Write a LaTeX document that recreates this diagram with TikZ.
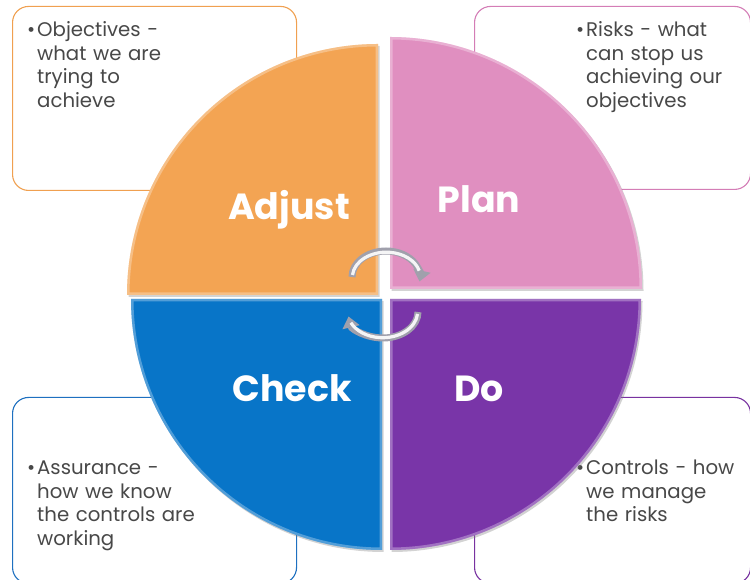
\documentclass[tikz,border=0pt]{standalone}
\usepackage{fontspec}
\setmainfont{Poppins}
\usetikzlibrary{shadows,arrows.meta}
\definecolor{cOrange}{RGB}{243,164,83}
\definecolor{cPink}{RGB}{224,143,192}
\definecolor{cBlue}{RGB}{8,117,200}
\definecolor{cPurple}{RGB}{121,53,168}
\definecolor{lOrange}{RGB}{240,160,80}
\definecolor{lPink}{RGB}{212,125,182}
\definecolor{lBlue}{RGB}{30,112,192}
\definecolor{lPurple}{RGB}{120,50,160}
\definecolor{cText}{RGB}{72,72,72}
\definecolor{cSilver}{RGB}{160,160,172}
\begin{document}
\begin{tikzpicture}[x=1bp,y=1bp,
  infobox/.style={draw, line width=1.1bp, rounded corners=16bp, fill=white, inner sep=0, anchor=south west},
  bodytext/.style={anchor=base west, inner sep=0, text width=250bp, align=left, text=cText, font=\fontsize{19.8}{23.5}\selectfont},
  quadlabel/.style={text=white, font=\fontsize{36.5}{40}\selectfont\bfseries, inner sep=0, anchor=base},
  quad/.style={drop shadow={opacity=0.35, shadow xshift=1.5bp, shadow yshift=-2bp}},
  bevel/.style={draw=white, draw opacity=0.3, line width=5bp},
  cyclearrow/.style={line width=7bp, draw=cSilver, -{Triangle[width=17bp,length=11bp]}},
  cyclehi/.style={line width=3.2bp, draw=white, draw opacity=0.9}
]
\useasboundingbox (0,0) rectangle (750,580);
% info boxes
\node[infobox, draw=lOrange, minimum width=284bp, minimum height=184bp] (boxTL) at (12,389) {};
\node[infobox, draw=lPink, minimum width=276bp, minimum height=183bp] (boxTR) at (474,390) {};
\node[infobox, draw=lBlue, minimum width=284bp, minimum height=186bp] (boxBL) at (12,-4) {};
\node[infobox, draw=lPurple, minimum width=276bp, minimum height=186bp] (boxBR) at (474,-4) {};
% texts
\node[bodytext] (tTL) at (37,543) {\llap{\textbullet\hspace{2bp}}Objectives -\\what we are\\trying to\\achieve};
\node[bodytext] (tTR) at (586,543) {\llap{\textbullet\hspace{2bp}}Risks - what\\can stop us\\achieving our\\objectives};
\node[bodytext] (tBL) at (37,105) {\llap{\textbullet\hspace{2bp}}Assurance -\\how we know\\the controls are\\working};
\node[bodytext] (tBR) at (586,105) {\llap{\textbullet\hspace{2bp}}Controls - how\\we manage\\the risks};
% quadrants
\path[fill=cOrange, quad] (378,285) -- (127,285) arc[start angle=180, end angle=90, radius=251] -- cycle;
\begin{scope}\clip (378,285) -- (127,285) arc[start angle=180, end angle=90, radius=251] -- cycle;
\path[bevel] (378,285) -- (127,285) arc[start angle=180, end angle=90, radius=251] -- cycle;\end{scope}
\path[fill=cPink, quad] (390,291) -- (390,543) arc[start angle=90, end angle=0, radius=252] -- cycle;
\begin{scope}\clip (390,291) -- (390,543) arc[start angle=90, end angle=0, radius=252] -- cycle;
\path[bevel] (390,291) -- (390,543) arc[start angle=90, end angle=0, radius=252] -- cycle;\end{scope}
\path[fill=cBlue, quad] (382,281) -- (382,30) arc[start angle=270, end angle=180, radius=251] -- cycle;
\begin{scope}\clip (382,281) -- (382,30) arc[start angle=270, end angle=180, radius=251] -- cycle;
\path[bevel] (382,281) -- (382,30) arc[start angle=270, end angle=180, radius=251] -- cycle;\end{scope}
\path[fill=cPurple, quad] (390,281) -- (641,281) arc[start angle=0, end angle=-90, radius=251] -- cycle;
\begin{scope}\clip (390,281) -- (641,281) arc[start angle=0, end angle=-90, radius=251] -- cycle;
\path[bevel] (390,281) -- (641,281) arc[start angle=0, end angle=-90, radius=251] -- cycle;\end{scope}
% labels
\node[quadlabel] (lAdjust) at (289,360) {Adjust};
\node[quadlabel] (lPlan) at (479,367) {Plan};
\node[quadlabel] (lCheck) at (292,178) {Check};
\node[quadlabel] (lDo) at (479,178) {Do};
% cycle arrows
\draw[cyclearrow] (352,303) arc[start angle=180, end angle=-10, x radius=34, y radius=26];
\draw[cyclehi] (352.5,305) arc[start angle=175, end angle=15, x radius=34, y radius=25];
\draw[cyclearrow] (418,268) arc[start angle=0, end angle=-170, x radius=35, y radius=26];
\draw[cyclehi] (417.5,266) arc[start angle=-5, end angle=-155, x radius=35, y radius=26];
\end{tikzpicture}
\end{document}
